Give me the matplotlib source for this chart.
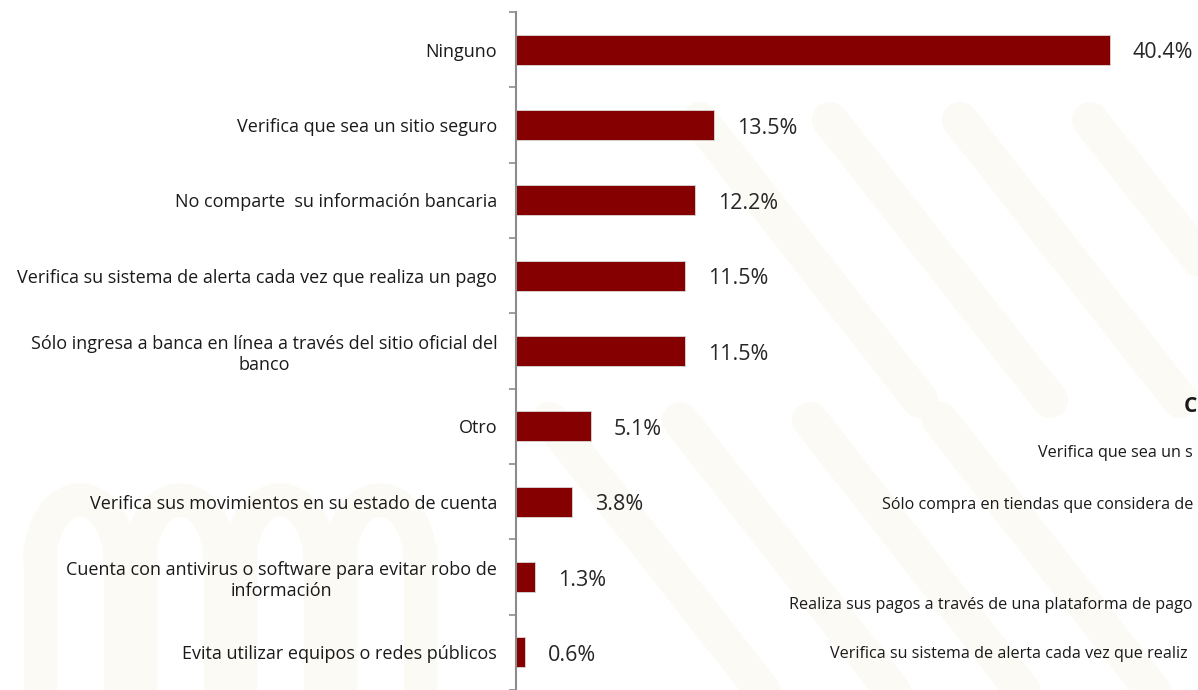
import numpy as np
import matplotlib.pyplot as plt

plt.rcParams['font.family'] = ['Open Sans', 'DejaVu Sans']

# Datos de la grafica
categorias = [
    'Ninguno',
    'Verifica que sea un sitio seguro',
    'No comparte  su información bancaria',
    'Verifica su sistema de alerta cada vez que realiza un pago',
    'Sólo ingresa a banca en línea a través del sitio oficial del\nbanco',
    'Otro',
    'Verifica sus movimientos en su estado de cuenta',
    'Cuenta con antivirus o software para evitar robo de\ninformación',
    'Evita utilizar equipos o redes públicos',
]
porcentajes = [40.4, 13.5, 12.2, 11.5, 11.5, 5.1, 3.8, 1.3, 0.6]

# Textos visibles de la grafica contigua (cortada en el borde derecho)
titulo_derecha = 'C'
textos_derecha = [
    'Verifica que sea un s',
    'Sólo compra en tiendas que considera de',
    'Realiza sus pagos a través de una plataforma de pago',
    'Verifica su sistema de alerta cada vez que realiz',
]

fig = plt.figure(figsize=(11.98, 6.90), dpi=100)
fig.patch.set_facecolor('white')

# fondo con marca de agua tenue
bg = fig.add_axes([0, 0, 1, 1])
bg.set_xlim(0, 1198)
bg.set_ylim(690, 0)
bg.axis('off')
wm = '#fcfaf5'
t = np.linspace(0, np.pi, 60)
for cx in [80, 180, 280, 380]:
    bg.plot(cx + 40 * np.cos(t), 560 - 60 * np.sin(t), color=wm, lw=24, solid_capstyle='round')
    bg.plot([cx - 40, cx - 40], [560, 700], color=wm, lw=24)
    bg.plot([cx + 40, cx + 40], [560, 700], color=wm, lw=24)
for x0 in [700, 830, 960, 1090]:
    bg.plot([x0, x0 + 220], [120, 400], color=wm, lw=26, solid_capstyle='round')
    bg.plot([x0 - 150, x0 + 70], [420, 700], color=wm, lw=26, solid_capstyle='round')

ax = fig.add_axes([516 / 1198, 0.0, 682 / 1198, 1 - 12 / 690])
ax.set_facecolor('none')

y = np.arange(len(categorias))
ax.barh(y, porcentajes, height=0.4, color='#850000', edgecolor='#d9d9d9', linewidth=0.6)

for yi, v in zip(y, porcentajes):
    ax.text(v + 1.55, yi + 0.04, f'{v:.1f}%', va='center', ha='left', fontsize=15.5, color='#262626')

ax.set_ylim(len(categorias) - 0.5, -0.5)
ax.set_xlim(0, 682 / 14.7)

ax.set_yticks(y)
ax.set_yticklabels(categorias, fontsize=13, color='#1a1a1a', multialignment='center',
                   linespacing=1.25)
ax.set_yticks(np.arange(-0.5, len(categorias), 1.0), minor=True)
ax.tick_params(axis='y', which='major', length=0, pad=13.5)
ax.tick_params(axis='y', which='minor', length=5, color='#8c8c8c', width=1.2)
ax.set_xticks([])

for s in ['top', 'right', 'bottom']:
    ax.spines[s].set_visible(False)
ax.spines['left'].set_color('#8c8c8c')
ax.spines['left'].set_linewidth(1.5)

# Grafica contigua, cortada por el borde derecho
fig.text(1184 / 1198, 1 - 407 / 690, titulo_derecha, fontsize=15, fontweight='bold',
         color='#1a1a1a', ha='left', va='center')
pos = [(1038, 453), (882, 505), (789, 605), (830, 654)]
for tx, (px, py) in zip(textos_derecha, pos):
    fig.text(px / 1198, 1 - py / 690, tx, fontsize=11.6, color='#1a1a1a', ha='left', va='center')

fig.savefig('out.png', dpi=100)
